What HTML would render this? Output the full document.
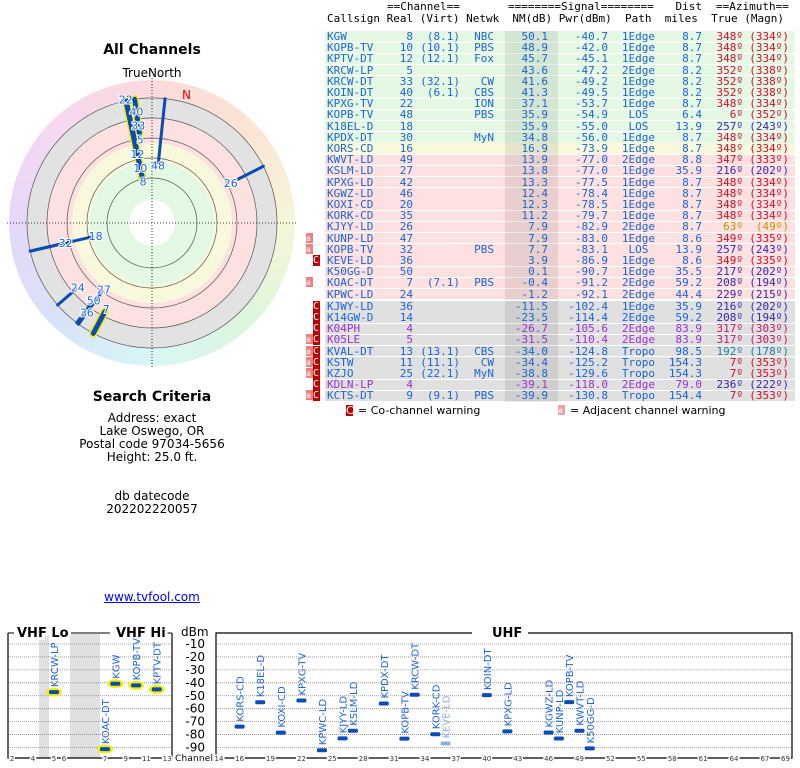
<!DOCTYPE html>
<html><head><meta charset="utf-8"><style>
body{margin:0;width:800px;height:768px;background:#fff;position:relative;overflow:hidden;font-family:"DejaVu Sans","Liberation Sans",sans-serif}
.t{position:absolute;white-space:pre;font-family:"DejaVu Sans Mono","Liberation Mono",monospace;font-size:11px;line-height:11px}
.c{position:absolute;text-align:center;width:304px;left:0;font-size:12px;color:#000}
</style></head><body>
<div class="c" style="top:42px;font-weight:bold;font-size:14px">All Channels</div>
<div class="c" style="top:66px;font-size:12px">TrueNorth</div>
<div style="position:absolute;left:9px;top:80px;width:286px;height:286px;border-radius:50%;background:conic-gradient(#fadada,#fae4d4 45deg,#f6f6d8 90deg,#ddf6dd 135deg,#d8f6f6 180deg,#d8e2f8 225deg,#e6d8f8 270deg,#f6d8f2 315deg,#fadada)"></div>
<svg id="polar" width="310" height="380" style="position:absolute;left:0;top:0"></svg>
<div class="c" style="top:389px;font-weight:bold;font-size:14px">Search Criteria</div>
<div class="c" style="top:412px;line-height:13px">Address: exact<br>Lake Oswego, OR<br>Postal code 97034-5656<br>Height: 25.0 ft.<br><br><br>db datecode<br>202202220057</div>
<div class="c" style="top:590px;color:#0000ee;text-decoration:underline">www.tvfool.com</div>
<div id="table"></div>
<svg id="bar" width="800" height="148" style="position:absolute;left:0;top:620px"></svg>
<script>
const calls=["KGW","KOPB-TV","KPTV-DT","KRCW-LP","KRCW-DT","KOIN-DT","KPXG-TV","KOPB-TV","K18EL-D","KPDX-DT","KORS-CD","KWVT-LD","KSLM-LD","KPXG-LD","KGWZ-LD","KOXI-CD","KORK-CD","KJYY-LD","KUNP-LD","KOPB-TV","KEVE-LD","K50GG-D","KOAC-DT","KPWC-LD","KJWY-LD","K14GW-D","K04PH","K05LE","KVAL-DT","KSTW","KZJO","KDLN-LP","KCTS-DT"];
const real=[8,10,12,5,33,40,22,48,18,30,16,49,27,42,46,20,35,26,47,32,36,50,7,24,36,14,4,5,13,11,25,4,9];
const virt=["(8.1)","(10.1)","(12.1)","","(32.1)","(6.1)","","","","","","","","","","","","","","","","","(7.1)","","","","","","(13.1)","(11.1)","(22.1)","","(9.1)"];
const netwk=["NBC","PBS","Fox","","CW","CBS","ION","PBS","","MyN","","","","","","","","","","PBS","","","PBS","","","","","","CBS","CW","MyN","","PBS"];
const nm=[50.1,48.9,45.7,43.6,41.6,41.3,37.1,35.9,35.9,34.8,16.9,13.9,13.8,13.3,12.4,12.3,11.2,7.9,7.9,7.7,3.9,0.1,-0.4,-1.2,-11.5,-23.5,-26.7,-31.5,-34.0,-34.4,-38.8,-39.1,-39.9];
const pwr=[-40.7,-42.0,-45.1,-47.2,-49.2,-49.5,-53.7,-54.9,-55.0,-56.0,-73.9,-77.0,-77.0,-77.5,-78.4,-78.5,-79.7,-82.9,-83.0,-83.1,-86.9,-90.7,-91.2,-92.1,-102.4,-114.4,-105.6,-110.4,-124.8,-125.2,-129.6,-118.0,-130.8];
const path=["1Edge","1Edge","1Edge","2Edge","1Edge","1Edge","1Edge","LOS ","LOS ","1Edge","1Edge","2Edge","1Edge","1Edge","1Edge","1Edge","1Edge","2Edge","1Edge","LOS ","1Edge","1Edge","2Edge","2Edge","1Edge","2Edge","2Edge","2Edge","Tropo","Tropo","Tropo","2Edge","Tropo"];
const dist=[8.7,8.7,8.7,8.2,8.2,8.2,8.7,6.4,13.9,8.7,8.7,8.8,35.9,8.7,8.7,8.7,8.7,8.7,8.6,13.9,8.6,35.5,59.2,44.4,35.9,59.2,83.9,83.9,98.5,154.3,154.3,79.0,154.4];
const az=[348,348,348,352,352,352,348,6,257,348,348,347,216,348,348,348,348,63,349,257,349,217,208,229,216,208,317,317,192,7,7,236,7];
const mag=[334,334,334,338,338,338,334,352,243,334,334,333,202,334,334,334,334,49,335,243,335,202,194,215,202,194,303,303,178,353,353,222,353];
const coWarn=[20,24,25,26,27,28,29,30,31,32];
const adjWarn=[18,19,22,27,28,29,30,32];
const vhfLoTickCh=[2,4,5,6];const vhfLoTickX=[12,33,54,64];
const vhfHiTickCh=[7,9,11,13];
const uhfTickCh=[14,16,19,22,25,28,31,34,37,40,43,46,49,52,55,58,61,64,67,69];
const dbmTicks=[-10,-20,-30,-40,-50,-60,-70,-80,-90];

const T=document.getElementById('table');
function txt(x,y,s,col,al,extra){const d=document.createElement('div');d.className='t';d.textContent=s;d.style.top=(y-6)+'px';d.style.color=col||'#000';if(al==='r'){d.style.right=(800-x)+'px'}else d.style.left=x+'px';if(extra)d.style.cssText+=extra;T.appendChild(d);return d;}
let h;
h=txt(387,7,'==Channel==');
h=txt(508,7,'========Signal========');
h=txt(702,7,'Dist','#000','r');
h=txt(716,7,'==Azimuth==');
h=txt(327,19,'Callsign Real (Virt) Netwk  NM(dB) Pwr(dBm)  Path  miles  True (Magn)');
function rowBg(i){return i<=9?'#e4f8e4':i==10?'#f8f8dc':i<=23?'#fde0e0':'#e0e0e0'}
function azCol(a){if(a>=340||a<=10)return '#c8102e';if(a==63)return '#c89000';if(a==317)return '#c0186c';if(a==192)return '#2080a8';return '#3a24b0'}
calls.forEach((c,i)=>{
 const y=37+i*11.2+(i>=24?1:0);
 const bg=document.createElement('div');bg.style.cssText=`position:absolute;left:325px;width:470px;top:${y-5.6}px;height:10.4px;background:${rowBg(i)}`;
 
 
 T.appendChild(bg);
 const sh=document.createElement('div');sh.style.cssText=`position:absolute;left:505px;width:53px;top:${y-5.6}px;height:11.2px;background:rgba(0,0,0,0.08)`;T.appendChild(sh);
 const purple=(c=='K04PH'||c=='K05LE'||c=='KDLN-LP');const bc=purple?'#9a30d0':'#1c64d0';
 txt(327,y,c,bc);txt(413,y,String(real[i]),bc,'r');txt(460,y,virt[i],bc,'r');txt(494,y,netwk[i],bc,'r');
 txt(548,y,nm[i].toFixed(1),bc,'r');txt(608,y,pwr[i].toFixed(1),bc,'r');txt(655,y,path[i],bc,'r');txt(702,y,dist[i].toFixed(1),bc,'r');
 txt(743,y,az[i]+'º',azCol(az[i]),'r');txt(789,y,'('+mag[i]+'º)',azCol(az[i]),'r');
 if(coWarn.includes(i)){const w=txt(313,y,'C','#fff',null,'background:#c00000;width:7px;height:11px;font-size:10px');}
 if(adjWarn.includes(i)){const w=txt(306,y,'a','#fff',null,'background:#f08080;width:7px;height:10px;font-size:8px');}
});
let L=txt(346,411,'C','#fff',null,'background:#c00000;width:7px;height:11px;font-family:DejaVu Sans,sans-serif');
L=txt(358,411,'= Co-channel warning','#000',null,'font-family:DejaVu Sans,sans-serif');
L=txt(558,411,'a','#fff',null,'background:#f4a0a0;width:7px;height:10px;font-size:8px');
L=txt(570,411,'= Adjacent channel warning','#000',null,'font-family:DejaVu Sans,sans-serif');

// polar
const NS='http://www.w3.org/2000/svg';
function el(p,t,a){const e=document.createElementNS(NS,t);for(const k in a)e.setAttribute(k,a[k]);p.appendChild(e);return e;}
const P=document.getElementById('polar');const cx=152,cy=223;
el(P,'circle',{cx,cy,r:125,fill:'#e2e2e2'});
el(P,'circle',{cx,cy,r:105,fill:'#fde0e0'});
el(P,'circle',{cx,cy,r:80,fill:'#f8f8dc'});
el(P,'circle',{cx,cy,r:62,fill:'#e2f8e2'});
el(P,'circle',{cx,cy,r:23,fill:'#fff'});
[125,105,85,65,45].forEach(r=>el(P,'circle',{cx,cy,r,fill:'none',stroke:'#555','stroke-width':0.7}));
el(P,'line',{x1:cx-145,y1:cy,x2:cx+145,y2:cy,stroke:'#000','stroke-dasharray':'1,2','stroke-width':0.8});
el(P,'line',{x1:cx,y1:cy-145,x2:cx,y2:cy+145,stroke:'#000','stroke-dasharray':'1,2','stroke-width':0.8});
let n=el(P,'text',{x:182,y:99,fill:'#e00','font-size':12,'font-family':'DejaVu Sans'});n.textContent='N';
function rOf(v){return 100-1.09*v}
function pt(r,a){const t=a*Math.PI/180;return [cx+r*Math.sin(t),cy-r*Math.cos(t)]}
// stack labels of stations sharing a bearing
const order=[];for(let i=0;i<calls.length;i++)if(rOf(nm[i])<125)order.push(i);
order.sort((a,b)=>rOf(nm[a])-rOf(nm[b]));
const lr={};const placed=[];
order.forEach(i=>{let r=rOf(nm[i]);
 placed.forEach(j=>{let d=Math.abs(az[i]-az[j]);d=Math.min(d,360-d);if(d<=5&&r<lr[j]+14&&r>lr[j]-14)r=lr[j]+14;});
 lr[i]=r;placed.push(i);});
const shown=order.filter(i=>lr[i]<136);
for(let pass=0;pass<3;pass++){
 shown.forEach(i=>{
 const r0=Math.min(lr[i],125);const [x1,y1]=pt(r0,az[i]);const [x2,y2]=pt(125,az[i]);
 const vhf=real[i]<=13;
 if(pass==0&&vhf)el(P,'line',{x1,y1,x2,y2,stroke:'#f0f000','stroke-width':8,'stroke-linecap':'round'});
 if(pass==1){const e=el(P,'line',{x1,y1,x2,y2,stroke:'#0a4cb4','stroke-width':vhf?5:3,'stroke-linecap':'round'});}
 if(pass==2){const [lx,ly]=pt(lr[i]-3,az[i]);const t=el(P,'text',{x:lx,y:ly+4,fill:'#1c64d0','font-size':11,'text-anchor':'middle','font-family':'DejaVu Sans',stroke:'#fff','stroke-width':2,'paint-order':'stroke'});t.textContent=real[i];
  
  }
 });
}

// bottom chart
const B=document.getElementById('bar');
function yOf(d){return 24+(-d-10)*1.294}
function interp(ch,cs,xs){for(let k=0;k<cs.length-1;k++){if(ch>=cs[k]&&ch<=cs[k+1])return xs[k]+(ch-cs[k])*(xs[k+1]-xs[k])/(cs[k+1]-cs[k]);}return xs[0]}
function xLo(ch){return interp(ch,vhfLoTickCh,vhfLoTickX)}
function xHi(ch){return 105+(ch-7)*10.35}
function xU(ch){return 219+(ch-14)*10.3}
el(B,'rect',{x:39,y:14,width:10,height:124,fill:'#e0e0e0'});
el(B,'rect',{x:70,y:14,width:30,height:124,fill:'#e0e0e0'});
dbmTicks.forEach(d=>{const y=yOf(d);
 el(B,'line',{x1:8,x2:172,y1:y,y2:y,stroke:'#888','stroke-dasharray':'1,1','stroke-width':0.8});
 el(B,'line',{x1:216,x2:791,y1:y,y2:y,stroke:'#888','stroke-dasharray':'1,1','stroke-width':0.8});
 const t=el(B,'text',{x:205,y:y+4,'font-size':12,'text-anchor':'end','font-family':'DejaVu Sans'});t.textContent=d;});
let t=el(B,'text',{x:181,y:16,'font-size':12,'font-family':'DejaVu Sans'});t.textContent='dBm';
el(B,'path',{d:'M8,13 V138 H172 V13',fill:'none',stroke:'#000','stroke-width':1.2});
el(B,'path',{d:'M216,13 V138 H792 V13 Z',fill:'none',stroke:'#000','stroke-width':1.2});
el(B,'line',{x1:8,x2:14,y1:13,y2:13,stroke:'#000'});el(B,'line',{x1:65,x2:110,y1:13,y2:13,stroke:'#000'});el(B,'line',{x1:165,x2:172,y1:13,y2:13,stroke:'#000'});
[['VHF Lo',17],['VHF Hi',116]].forEach(([s,x])=>{const e=el(B,'text',{x,y:17,'font-size':13,'font-weight':'bold','font-family':'DejaVu Sans',stroke:'#fff','stroke-width':6,'paint-order':'stroke'});e.textContent=s;});
el(B,'rect',{x:472,y:8,width:56,height:10,fill:'#fff'});
const e2=el(B,'text',{x:492,y:17,'font-size':13,'font-weight':'bold','font-family':'DejaVu Sans'});e2.textContent='UHF';


t=el(B,'text',{x:175,y:141,'font-size':9,'font-family':'DejaVu Sans',textLength:38});t.textContent='Channel';


function tick(x,s){const e=el(B,'text',{x,y:141,'font-size':7,'text-anchor':'middle','font-family':'DejaVu Sans',fill:'#333',stroke:'#fff','stroke-width':3,'paint-order':'stroke'});e.textContent=s;}
vhfLoTickCh.forEach(c=>tick(xLo(c),c));vhfHiTickCh.forEach(c=>tick(xHi(c),c));uhfTickCh.forEach(c=>tick(xU(c),c));
calls.forEach((c,i)=>{
 if(pwr[i]<-95)return;
 const ch=real[i];let x;if(ch<=6)x=xLo(ch);else if(ch<=13)x=xHi(ch);else x=xU(ch);
 const y=yOf(pwr[i]);const vhf=ch<=13;const light=c=='KEVE-LD';
 if(vhf)el(B,'ellipse',{cx:x,cy:y,rx:8,ry:4.5,fill:'#f0f000'});
 const m=el(B,'rect',{x:x-5,y:y-2,width:10,height:4,rx:1.5,fill:light?'#8ab0e0':'#0a4cb4'});
 
 
 const lb=el(B,'text',{x:x+4,y:y-5,'font-size':10,'font-family':'DejaVu Sans',fill:light?'#8ab0e0':'#1c64d0',transform:`rotate(-90 ${x+4} ${y-5})`});
 lb.textContent=c;
 
 
});
</script>
</body></html>
